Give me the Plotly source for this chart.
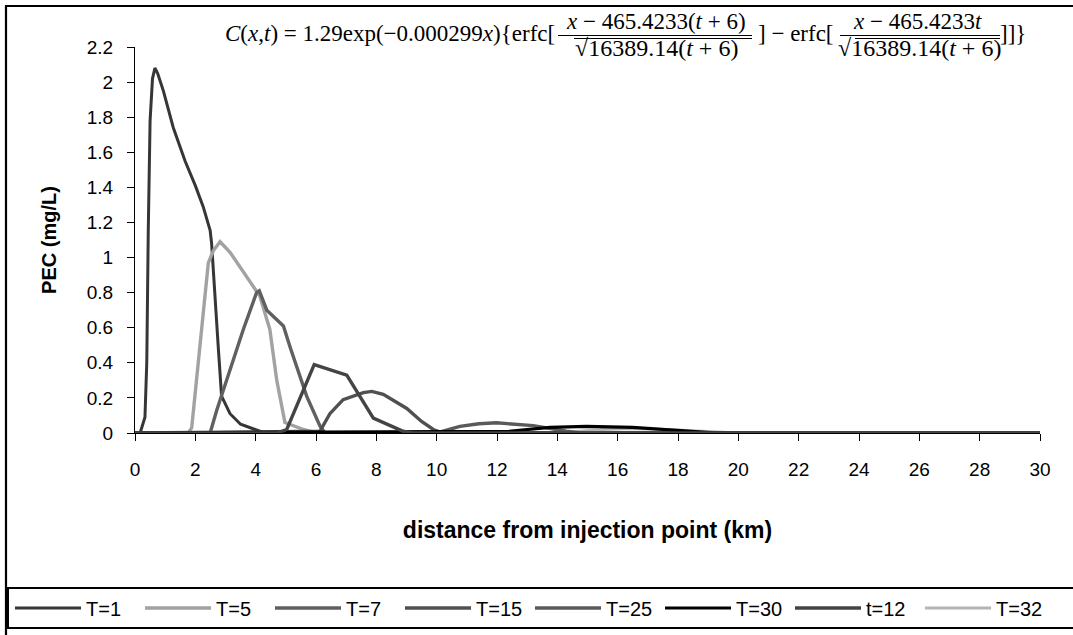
import plotly.graph_objects as go

# ---------------- data (km, mg/L) ----------------
x_T1 = [0, 0.17, 0.33, 0.39, 0.44, 0.50, 0.58, 0.66, 0.75, 0.94, 1.27, 1.49, 1.66, 2.0, 2.26, 2.49, 2.54, 2.76, 2.87, 3.15, 3.5, 3.98, 4.3, 30]
y_T1 = [0, 0.0, 0.09, 0.40, 1.155, 1.78, 2.02, 2.08, 2.05, 1.95, 1.74, 1.63, 1.55, 1.41, 1.29, 1.155, 1.08, 0.49, 0.21, 0.11, 0.05, 0.02, 0, 0]

x_T5 = [0, 1.77, 1.88, 2.04, 2.21, 2.32, 2.43, 2.60, 2.82, 3.15, 3.70, 4.14, 4.47, 4.70, 4.97, 5.58, 6.0, 30]
y_T5 = [0, 0, 0.03, 0.30, 0.59, 0.78, 0.97, 1.04, 1.09, 1.03, 0.89, 0.78, 0.59, 0.30, 0.06, 0.02, 0, 0]

x_T7 = [0, 2.49, 2.71, 3.04, 3.59, 4.03, 4.12, 4.37, 4.92, 5.14, 5.69, 6.13, 6.3, 30]
y_T7 = [0, 0, 0.13, 0.30, 0.59, 0.80, 0.81, 0.70, 0.61, 0.49, 0.21, 0.04, 0, 0]

x_T15 = [0, 6.13, 6.46, 6.90, 7.57, 7.85, 8.23, 9.01, 9.50, 9.89, 10.2, 30]
y_T15 = [0, 0.01, 0.11, 0.19, 0.23, 0.237, 0.22, 0.14, 0.066, 0.02, 0, 0]

x_T25 = [0, 10.0, 10.77, 11.4, 11.99, 12.6, 13.2, 14.3, 14.8, 30]
y_T25 = [0, 0, 0.038, 0.053, 0.058, 0.052, 0.042, 0.01, 0, 0]

x_T30 = [0, 12.4, 13.76, 14.97, 16.5, 17.95, 19.3, 30]
y_T30 = [0, 0.01, 0.032, 0.038, 0.032, 0.015, 0, 0]

x_t12 = [0, 4.7, 5.03, 5.94, 7.02, 7.90, 8.89, 9.2, 30]
y_t12 = [0, 0, 0.02, 0.39, 0.33, 0.085, 0.01, 0, 0]

x_T32 = [0, 14.0, 15.5, 16.5, 17.8, 20.0, 30]
y_T32 = [0, 0, 0.02, 0.025, 0.018, 0, 0]

x_ticks = list(range(0, 31, 2))
y_ticks = [0, 0.2, 0.4, 0.6, 0.8, 1, 1.2, 1.4, 1.6, 1.8, 2, 2.2]
y_tick_text = ["0", "0.2", "0.4", "0.6", "0.8", "1", "1.2", "1.4", "1.6", "1.8", "2", "2.2"]

# ---------------- figure ----------------
W, H = 1073, 635
L, R, T, B = 135, 1040, 47, 433   # plot-area pixel edges

def px(xp):
    return (xp - L) / (R - L)

def py(yp):
    return (B - yp) / (B - T)

fig = go.Figure()

# drawing order (bottom -> top), legend order via legendrank
series = [
    ("T=32", x_T32, y_T32, "#b4b4b4", 3.0, 8),
    ("T=1", x_T1, y_T1, "#363636", 3.0, 1),
    ("T=5", x_T5, y_T5, "#a2a2a2", 3.4, 2),
    ("T=7", x_T7, y_T7, "#606060", 3.4, 3),
    ("T=15", x_T15, y_T15, "#505050", 3.4, 4),
    ("T=25", x_T25, y_T25, "#5a5a5a", 3.4, 5),
    ("T=30", x_T30, y_T30, "#000000", 3.2, 6),
    ("t=12", x_t12, y_t12, "#444444", 3.4, 7),
]
for name, xs, ys, col, w, rank in series:
    fig.add_trace(go.Scatter(x=xs, y=ys, name=name, mode="lines",
                             line=dict(color=col, width=w),
                             legendrank=rank, cliponaxis=False))

font_main = "Liberation Sans, Arial, sans-serif"
serif = "Liberation Serif, Times New Roman, serif"

fig.update_layout(
    width=W, height=H,
    margin=dict(l=L, r=W - R, t=T, b=H - B, autoexpand=False),
    paper_bgcolor="white", plot_bgcolor="white",
    font=dict(family=font_main, size=19, color="black"),
    showlegend=True,
    legend=dict(orientation="h", x=px(10), xanchor="left",
                y=py(608), yanchor="middle",
                font=dict(size=20, family=font_main),
                entrywidth=49, entrywidthmode="pixels",
                itemwidth=66, bgcolor="rgba(0,0,0,0)",
                traceorder="normal"),
    xaxis=dict(range=[0, 30], tickvals=x_ticks, ticks="outside", ticklen=7,
               tickwidth=1.3, tickcolor="black", showline=True, linecolor="black",
               linewidth=1.3, showgrid=False, zeroline=False,
               ticklabelstandoff=12, automargin=False,
               title=dict(text="<b>distance from injection point (km)</b>",
                          font=dict(size=23), standoff=42)),
    yaxis=dict(range=[0, 2.2], tickvals=y_ticks, ticktext=y_tick_text,
               ticks="outside", ticklen=7, tickwidth=1.3, tickcolor="black",
               showline=True, linecolor="black", linewidth=1.3,
               showgrid=False, zeroline=False, ticklabelstandoff=10,
               automargin=False,
               title=dict(text="<b>PEC (mg/L)</b>", font=dict(size=20),
                          standoff=24)),
)

# outer chart border and legend box
fig.add_shape(type="rect", xref="paper", yref="paper",
              x0=px(6), x1=px(1090), y0=py(6), y1=py(650),
              line=dict(color="black", width=2.2), layer="below")
fig.add_shape(type="rect", xref="paper", yref="paper",
              x0=px(8), x1=px(1090), y0=py(588), y1=py(628),
              line=dict(color="black", width=2), layer="below")

# ---------------- equation ----------------
def txt(s, xp, yp, anchor="center", size=23):
    fig.add_annotation(text=s, xref="paper", yref="paper", x=px(xp), y=py(yp),
                       xanchor=anchor, yanchor="middle", showarrow=False,
                       font=dict(family=serif, size=size, color="black"))

def hline(x0, x1, yp, w=1.2):
    fig.add_shape(type="line", xref="paper", yref="paper",
                  x0=px(x0), x1=px(x1), y0=py(yp), y1=py(yp),
                  line=dict(color="black", width=w))

txt("<i>C</i>(<i>x</i>,<i>t</i>) = 1.29exp(−0.000299<i>x</i>){erfc[", 557, 33, "right")
txt("<i>x</i> − 465.4233(<i>t</i> + 6)", 656, 22)
hline(558, 752, 35.5)
hline(574, 752, 38.5)
txt("√16389.14(<i>t</i> + 6)", 656, 48, size=24)
txt("] − erfc[", 796, 33)
txt("<i>x</i> − 465.4233<i>t</i>", 917, 22)
hline(840, 1000, 35.5)
hline(855, 1000, 38.5)
txt("√16389.14(<i>t</i> + 6)", 919, 48, size=24)
txt("]]}", 1013, 33)

fig.write_html("out.html", config={"displayModeBar": False},
               post_script="document.body.style.margin='0';")
